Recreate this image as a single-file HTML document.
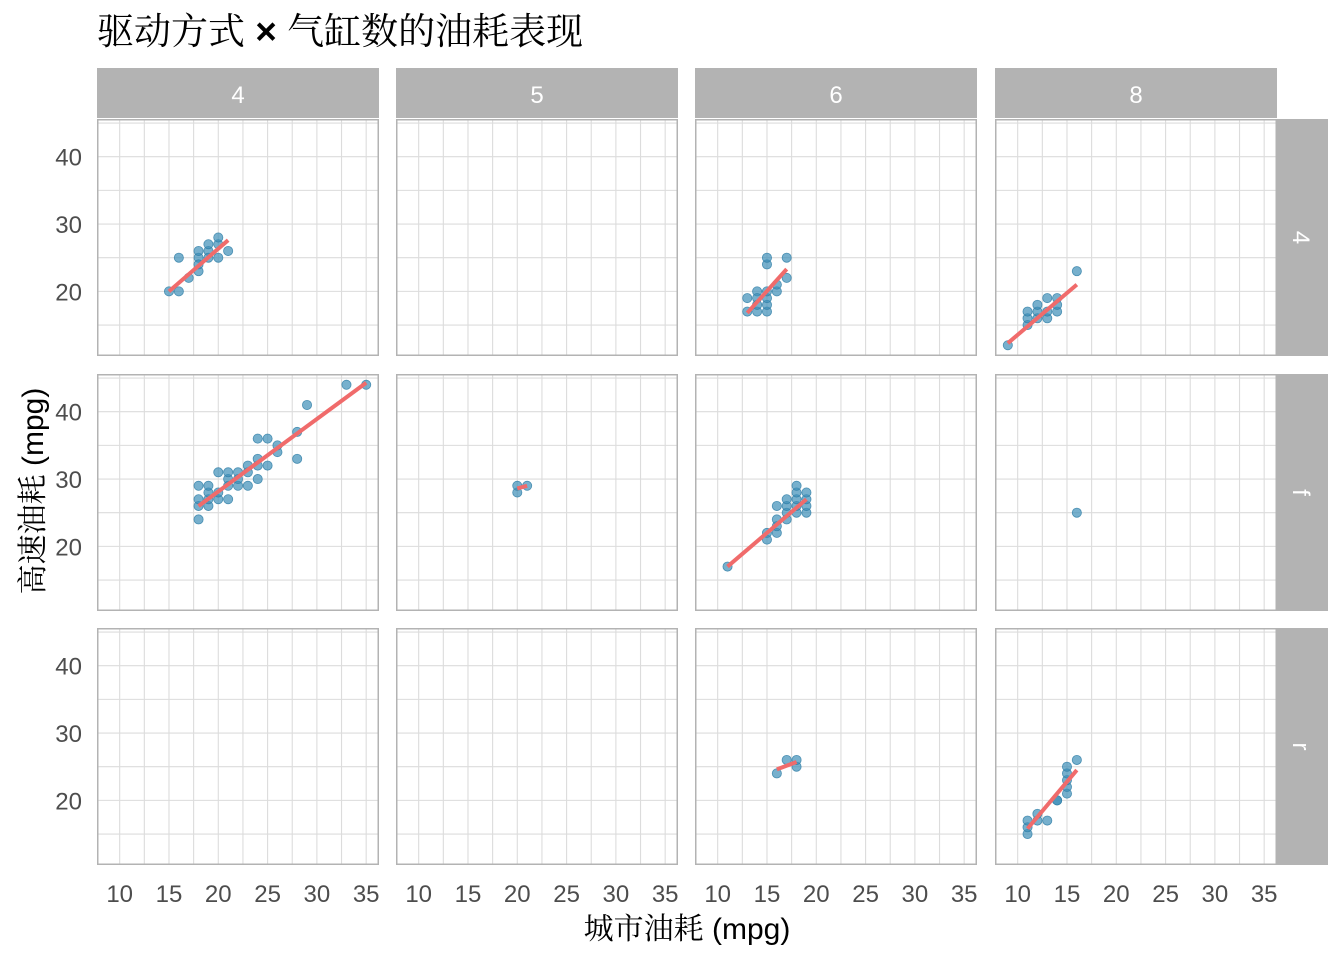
<!DOCTYPE html><html><head><meta charset="utf-8"><style>
body{margin:0;background:#fff;width:1344px;height:960px;overflow:hidden}
text{font-family:"Liberation Sans","Noto Sans CJK SC",sans-serif}
.cj{font-family:"Noto Serif CJK SC",serif}
</style></head><body>
<svg id="s" width="1344" height="960" xmlns="http://www.w3.org/2000/svg"></svg>
<script>
const s=document.getElementById('s');let h='';
h+='<text x="97" y="44" font-size="37" fill="#000"><tspan class="cj">驱动方式</tspan><tspan font-weight="bold"> × </tspan><tspan class="cj">气缸数的油耗表现</tspan></text>';
const cols=[97,396,695,995],W=282,rows=[119,374,628],H=237;
const X=(px,v)=>px+(v-7.7)*W/28.6, Y=(py,v)=>py+(45.6-v)*H/35.2;
const D={
'0_0':[[15,20],[16,20],[16,25],[17,22],[18,23],[18,25],[18,26],[19,26],[19,27],[20,25],[20,27],[20,28],[21,26],[19,25],[18,24]],
'0_2':[[13,17],[13,19],[14,17],[14,18],[14,20],[15,17],[15,18],[15,19],[15,20],[15,24],[15,25],[16,20],[16,21],[17,25],[17,22],[14,19]],
'0_3':[[9,12],[11,15],[11,16],[11,17],[12,16],[12,17],[12,18],[13,16],[13,17],[13,19],[14,17],[14,19],[16,23],[14,18]],
'1_0':[[18,24],[18,26],[18,27],[18,29],[19,26],[19,27],[19,28],[19,29],[20,27],[20,28],[20,31],[21,27],[21,29],[21,30],[21,31],[22,29],[22,30],[22,31],[23,29],[23,31],[23,32],[24,30],[24,32],[24,33],[24,36],[25,32],[25,36],[26,34],[26,35],[28,33],[28,37],[29,41],[33,44],[35,44]],
'1_1':[[20,28],[20,29],[21,29]],
'1_2':[[11,17],[15,21],[15,22],[16,22],[16,23],[16,24],[16,26],[17,24],[17,25],[17,26],[17,27],[18,25],[18,26],[18,27],[18,28],[18,29],[19,25],[19,26],[19,27],[19,28]],
'1_3':[[16,25]],
'2_2':[[16,24],[17,26],[18,25],[18,26]],
'2_3':[[11,15],[11,16],[11,17],[12,17],[12,18],[13,17],[14,20],[15,21],[15,22],[15,23],[15,24],[15,25],[16,26],[14,20]]};
const L={'0_0':[15,20,21,27.6],'0_2':[13,16.8,17,23.3],'0_3':[9,12.3,16,21],'1_0':[18,26,35,44.3],'1_1':[20,28.6,21,29],'1_2':[11,17,19,27],'2_2':[16,24.6,18,25.7],'2_3':[11,15.8,16,24.5]};
const strips=['4','5','6','8'],rs=['4','f','r'];
cols.forEach((cx,j)=>{h+=`<rect x="${cx}" y="68" width="${W}" height="50" fill="#b3b3b3"/><text x="${cx+W/2}" y="103" font-size="24" fill="#fff" text-anchor="middle">${strips[j]}</text>`;});
rows.forEach((ry,i)=>{h+=`<rect x="1277" y="${ry}" width="51" height="${H}" fill="#b3b3b3"/><text transform="translate(1293,${ry+H/2}) rotate(90)" font-size="24" fill="#fff" text-anchor="middle">${rs[i]}</text>`;
 h+=`<text x="82" y="${Y(ry,40)+9}" font-size="24" fill="#4d4d4d" text-anchor="end">40</text><text x="82" y="${Y(ry,30)+9}" font-size="24" fill="#4d4d4d" text-anchor="end">30</text><text x="82" y="${Y(ry,20)+9}" font-size="24" fill="#4d4d4d" text-anchor="end">20</text>`;
 cols.forEach((cx,j)=>{
  h+=`<rect x="${cx}" y="${ry}" width="${W}" height="${H}" fill="#fff"/>`;
  for(let v=10;v<=36;v+=2.5){const x=X(cx,v);h+=`<line x1="${x}" x2="${x}" y1="${ry}" y2="${ry+H}" stroke="#dcdcdc" stroke-width="1.1"/>`;}
  for(let v=15;v<=45;v+=5){const y=Y(ry,v);h+=`<line x1="${cx}" x2="${cx+W}" y1="${y}" y2="${y}" stroke="#dcdcdc" stroke-width="1.1"/>`;}
  const k=i+'_'+j;
  (D[k]||[]).forEach(p=>{h+=`<circle cx="${X(cx,p[0])}" cy="${Y(ry,p[1])}" r="4.6" fill="#3d8fb8" fill-opacity="0.7" stroke="#2f7ea6" stroke-opacity="0.8" stroke-width="0.8"/>`;});
  if(L[k]){const l=L[k];h+=`<line x1="${X(cx,l[0])}" y1="${Y(ry,l[1])}" x2="${X(cx,l[2])}" y2="${Y(ry,l[3])}" stroke="#f06b6b" stroke-width="4"/>`;}
  h+=`<rect x="${cx+0.75}" y="${ry+0.75}" width="${W-1.5}" height="${H-1.5}" fill="none" stroke="#b3b3b3" stroke-width="1.5"/>`;
 });});
cols.forEach(cx=>{for(let v=10;v<=35;v+=5)h+=`<text x="${X(cx,v)}" y="902" font-size="24" fill="#4d4d4d" text-anchor="middle">${v}</text>`;});
h+='<text x="687" y="939" font-size="30" fill="#000" text-anchor="middle"><tspan class="cj">城市油耗</tspan> (mpg)</text>';
h+='<text transform="translate(43,491) rotate(-90)" font-size="30" fill="#000" text-anchor="middle"><tspan class="cj">高速油耗</tspan> (mpg)</text>';
s.innerHTML=h;
</script></body></html>
